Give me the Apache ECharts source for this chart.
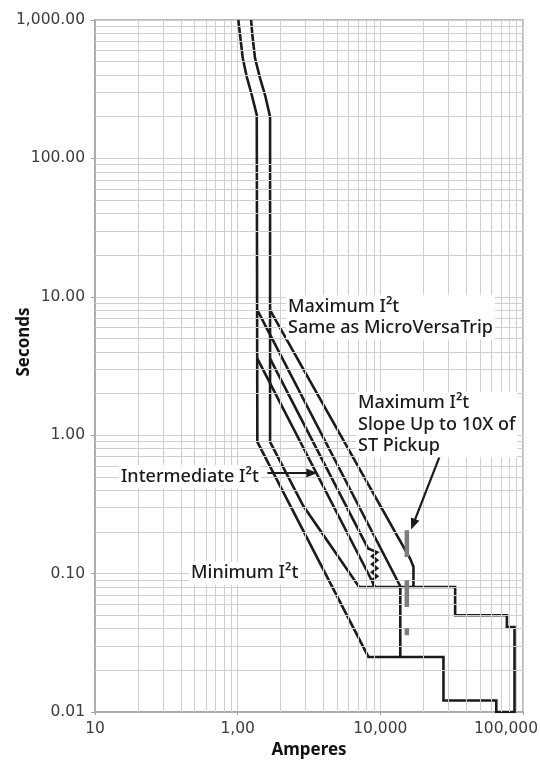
<!DOCTYPE html>
<html>
<head>
<meta charset="utf-8">
<title>Short-time I2t settings</title>
<script src="https://cdn.jsdelivr.net/npm/echarts/dist/echarts.min.js"></script>
<style>
  html, body { margin: 0; padding: 0; background: #ffffff; }
  #chart { width: 540px; height: 761px; }
</style>
</head>
<body>
<div id="chart"></div>
<script>
// tick labels exactly as printed on the sheet
const xTickLabels = ["10", "1,00", "10,000", "100,000"];

// curve points, [amperes, seconds]
const longTimeLow = [[1011, 1000], [1039, 779], [1086, 529], [1158, 389], [1256, 287], [1361, 206], [1374, 200]];
const longTimeHigh = [[1242, 1000], [1268, 779], [1324, 529], [1436, 379], [1556, 287], [1687, 206]];
const minI2tLow = [[1374, 0.894], [8250, 0.025]];
const minI2tHigh = [[1687, 0.894], [2874, 0.31], [7100, 0.08]];
const instBoundary = [[8250, 0.025], [27700, 0.025], [27700, 0.0121], [65000, 0.0121], [65000, 0.01],
  [87200, 0.01], [87200, 0.0411], [77100, 0.0411], [77100, 0.05], [33450, 0.05], [33450, 0.08], [7100, 0.08]];
const intI2tLow = [[1374, 3.58], [9200, 0.08]];
const intI2tHigh = [[1687, 3.58], [8200, 0.152]];
const intZigzag = [[8200, 0.152], [9500, 0.1426], [8760, 0.1334], [9500, 0.1248], [8760, 0.1168],
  [9500, 0.1093], [8760, 0.1022], [9500, 0.0956], [8760, 0.0894], [9050, 0.08]];
const maxI2tLow = [[1374, 8.0], [13800, 0.081]];
const maxI2tHigh = [[1687, 8.0], [16200, 0.128], [17070, 0.112], [17070, 0.08]];
const stBandEdge = [[13800, 0.08], [13800, 0.025]];
const pickupMarks = [
  [[15340, 0.2057], [15340, 0.1318]],
  [[15340, 0.0894], [15340, 0.0574]],
  [[15340, 0.0403], [15340, 0.0358]]
];

// annotation arrows, [from, to] in amperes / seconds
const intArrow = [[1616, 0.534], [3308, 0.534]];
const pickupArrow = [[26260, 0.717], [16980, 0.227]];

// minor grid (2..9 in every decade)
const xGrid = [];
for (let d = 100; d < 100000; d *= 10) {
  for (let k = 2; k <= 9; k++) xGrid.push(k * d);
}
const yGrid = [];
for (let d = 0.01; d < 1000; d *= 10) {
  for (let k = 2; k <= 9; k++) yGrid.push(k * d);
}

const FONT = "'Noto Sans', sans-serif";
const TICKFONT = "'DejaVu Sans', sans-serif";
const INK = "#1b1b1b";

// outer envelope drawn as one path
const outline = [].concat(
  longTimeLow, minI2tLow, instBoundary,
  minI2tHigh.slice().reverse(), [[1687, 200]], longTimeHigh.slice().reverse()
);

function curve(name, data) {
  return {
    name: name,
    type: "line",
    data: data,
    showSymbol: false,
    silent: true,
    z: 4,
    lineStyle: { color: INK, width: 2.6, join: "miter", cap: "butt" }
  };
}

function note(text, left, top) {
  return {
    type: "text", left: left, top: top, z: 100,
    style: {
      text: text,
      font: "500 18px " + FONT, fill: INK, lineHeight: 21.3,
      backgroundColor: "#fff", padding: [1, 2, 1, 2]
    }
  };
}

let myChart = echarts.init(document.getElementById("chart"));

let series = [
  {
    name: "grid",
    type: "line",
    data: [],
    z: 1,
    silent: true,
    markLine: {
      silent: true,
      symbol: ["none", "none"],
      label: { show: false },
      lineStyle: { color: "#cfcfcf", width: 1, type: "solid" },
      data: xGrid.map(function(v) { return { xAxis: v }; })
        .concat(yGrid.map(function(v) { return { yAxis: v }; }))
    }
  },
  curve("outline", outline),
  curve("Intermediate low", intI2tLow),
  curve("Intermediate high", intI2tHigh.concat(intZigzag)),
  curve("Maximum low", maxI2tLow),
  curve("Maximum high", maxI2tHigh),
  curve("ST band", stBandEdge),
  {
    name: "arrows",
    type: "line",
    data: [],
    z: 5,
    silent: true,
    markLine: {
      silent: true,
      symbol: ["none", "triangle"],
      symbolSize: [9, 11],
      label: { show: false },
      lineStyle: { color: INK, width: 2.2, type: "solid" },
      data: [
        [{ coord: intArrow[0] }, { coord: intArrow[1] }],
        [{ coord: pickupArrow[0] }, { coord: pickupArrow[1] }]
      ]
    }
  }
];

pickupMarks.forEach(function(seg, i) {
  series.push({
    name: "pickup " + i,
    type: "line",
    data: seg,
    showSymbol: false,
    silent: true,
    z: 5,
    lineStyle: { color: "#7d7d7d", width: 4.5, cap: "butt" }
  });
});

let option = {
  animation: false,
  backgroundColor: "#ffffff",
  grid: {
    left: 95,
    right: 17,
    top: 20,
    bottom: 49,
    containLabel: false,
    outerBoundsMode: "none",
    show: true,
    borderColor: "#a3a3a3",
    borderWidth: 1.5
  },
  xAxis: {
    type: "log",
    logBase: 10,
    min: 100,
    max: 100000,
    name: "Amperes",
    nameLocation: "middle",
    nameGap: 30,
    nameMoveOverlap: false,
    nameTextStyle: { fontFamily: FONT, fontSize: 17, fontWeight: "bold", color: "#111" },
    axisLine: { show: true, lineStyle: { color: "#a3a3a3", width: 1.5 } },
    axisTick: { show: true, length: 3, lineStyle: { color: "#a3a3a3" } },
    splitLine: { show: true, lineStyle: { color: "#cfcfcf", width: 1 } },
    minorTick: { show: false },
    axisLabel: {
      margin: 9,
      fontFamily: TICKFONT,
      fontSize: 15.5,
      color: "#3c3c3c",
      formatter: function(v) {
        let idx = Math.round(Math.log10(v)) - 2;
        let lab = xTickLabels[idx];
        //last label sits inside the picture
        return idx === 3 ? "{last|" + lab + "}" : lab;
      },
      rich: {
        last: { fontFamily: TICKFONT, fontSize: 15.5, color: "#3c3c3c", padding: [0, 34, 0, 0] }
      }
    }
  },
  yAxis: {
    type: "log",
    logBase: 10,
    min: 0.01,
    max: 1000,
    name: "Seconds",
    nameLocation: "middle",
    nameGap: 62,
    nameMoveOverlap: false,
    nameTextStyle: { fontFamily: FONT, fontSize: 17, fontWeight: "bold", color: "#111", padding: [0, 0, 0, 48] },
    axisLine: { show: true, lineStyle: { color: "#a3a3a3", width: 1.5 } },
    axisTick: { show: true, length: 4, lineStyle: { color: "#a3a3a3" } },
    splitLine: { show: true, lineStyle: { color: "#cfcfcf", width: 1 } },
    axisLabel: {
      margin: 10,
      fontFamily: TICKFONT,
      fontSize: 15.5,
      color: "#3c3c3c",
      formatter: function(v) {
        return v.toLocaleString("en-US", { minimumFractionDigits: 2, maximumFractionDigits: 2 });
      }
    }
  },
  graphic: [
    note("Maximum I\u00b2t\nSame as MicroVersaTrip", 286, 295),
    note("Maximum I\u00b2t\nSlope Up to 10X of\nST Pickup", 356, 391.5),
    note("Intermediate I\u00b2t", 119, 465),
    note("Minimum I\u00b2t", 189, 561.5)
  ],
  series: series
};

myChart.setOption(option);
</script>
</body>
</html>
